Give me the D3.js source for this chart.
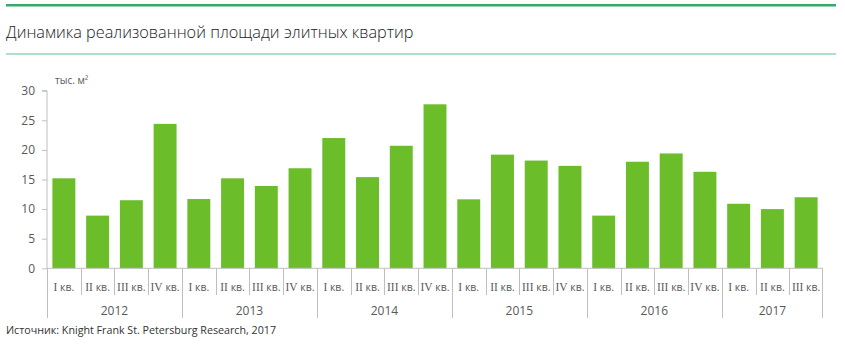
<!DOCTYPE html>
<html><head><meta charset="utf-8">
<script src="https://cdn.jsdelivr.net/npm/d3@7"></script>
<style>body{margin:0;background:#fff}svg{display:block}</style>
</head><body>
<svg id="c" width="845" height="348"></svg>
<script>
const years = ["2012","2013","2014","2015","2016","2017"];
const quarters = ["I","II","III","IV"];
const quarterCounts = [4,4,4,4,4,3];
const values = [15.2,8.9,11.5,24.4, 11.7,15.2,13.9,16.9, 22.0,15.4,20.7,27.7, 11.65,19.2,18.2,17.3, 8.9,18.0,19.4,16.3, 10.9,10.0,12.0];
const yTicks = [0,5,10,15,20,25,30];
const title = "Динамика реализованной площади элитных квартир";
const unit = "тыс. м²";
const source = "Источник: Knight Frank St. Petersburg Research, 2017";

const cats = [];
years.forEach((y,i)=>{ for(let q=0;q<quarterCounts[i];q++) cats.push({year:y, q:quarters[q], key:y+"-"+q}); });

const svg = d3.select("#c");
const font = "'Open Sans', 'Noto Sans', sans-serif";
const gray = "#595959";
const axisCol = "#bfbfbf";

svg.append("line").attr("x1",6).attr("x2",836).attr("y1",5.2).attr("y2",5.2).attr("stroke","#3aa86b").attr("stroke-width",2.6);
svg.append("line").attr("x1",6).attr("x2",836).attr("y1",54).attr("y2",54).attr("stroke","#5cc08a").attr("stroke-width",1);
svg.append("text").attr("x",6).attr("y",38).attr("font-family",font).attr("font-size",16.3).attr("fill","#222").attr("font-weight",300).text(title);

const x = d3.scaleBand().domain(cats.map(d=>d.key)).range([47,823]).paddingInner(0.32).paddingOuter(0.16);
const y = d3.scaleLinear().domain([0,30]).range([268.3,90.7]);

// bars
svg.append("g").selectAll("rect").data(cats).join("rect")
  .attr("x",d=>x(d.key)).attr("width",x.bandwidth())
  .attr("y",(d,i)=>y(values[i])).attr("height",(d,i)=>y(0)-y(values[i]))
  .attr("fill","#6bbd2a");

// y axis
const ya = svg.append("g").attr("transform","translate(47,0)")
  .call(d3.axisLeft(y).tickValues(yTicks).tickSize(5).tickPadding(7));
ya.select(".domain").attr("stroke",axisCol).attr("d","M-5,"+y(30)+"H0V"+y(0));
ya.selectAll(".tick line").attr("stroke",axisCol);
ya.selectAll("text").attr("font-family",font).attr("font-size",12).attr("fill",gray);

svg.append("text").attr("x",55).attr("y",84).attr("font-family",font).attr("font-size",10).attr("fill",gray).text(unit);

// x axis baseline
svg.append("line").attr("x1",47).attr("x2",823).attr("y1",y(0)).attr("y2",y(0)).attr("stroke",axisCol);

const step = x.step();
const left = k => x(k) - x.paddingInner()*step/2;
// quarter separators
cats.forEach((d,i)=>{
  const lx = Math.round(left(d.key))+0.5;
  const isYear = i===0 || cats[i-1].year!==d.year;
  svg.append("line").attr("x1",lx).attr("x2",lx).attr("y1",y(0)).attr("y2",isYear?318:295).attr("stroke",axisCol);
});
svg.append("line").attr("x1",822.5).attr("x2",822.5).attr("y1",y(0)).attr("y2",318).attr("stroke",axisCol);

// quarter labels
const ql = svg.append("g").selectAll("text").data(cats).join("text")
  .attr("x",d=>x(d.key)+x.bandwidth()/2).attr("y",291).attr("text-anchor","middle")
  .attr("font-size",10.5).attr("fill",gray);
ql.append("tspan").attr("font-family","'Liberation Serif', serif").attr("font-size",11.5).text(d=>d.q);
ql.append("tspan").attr("font-family",font).text(" кв.");

// year labels
let idx=0;
years.forEach((yr,i)=>{
  const first = cats[idx].key, last = cats[idx+quarterCounts[i]-1].key;
  const x0 = left(first), x1 = left(last)+step;
  svg.append("text").attr("x",(x0+x1)/2).attr("y",315).attr("text-anchor","middle")
    .attr("font-family",font).attr("font-size",12).attr("fill",gray).text(yr);
  idx += quarterCounts[i];
});

svg.append("text").attr("x",6).attr("y",334).attr("font-family",font).attr("font-size",10.7).attr("fill","#333").text(source);
</script>
</body></html>
